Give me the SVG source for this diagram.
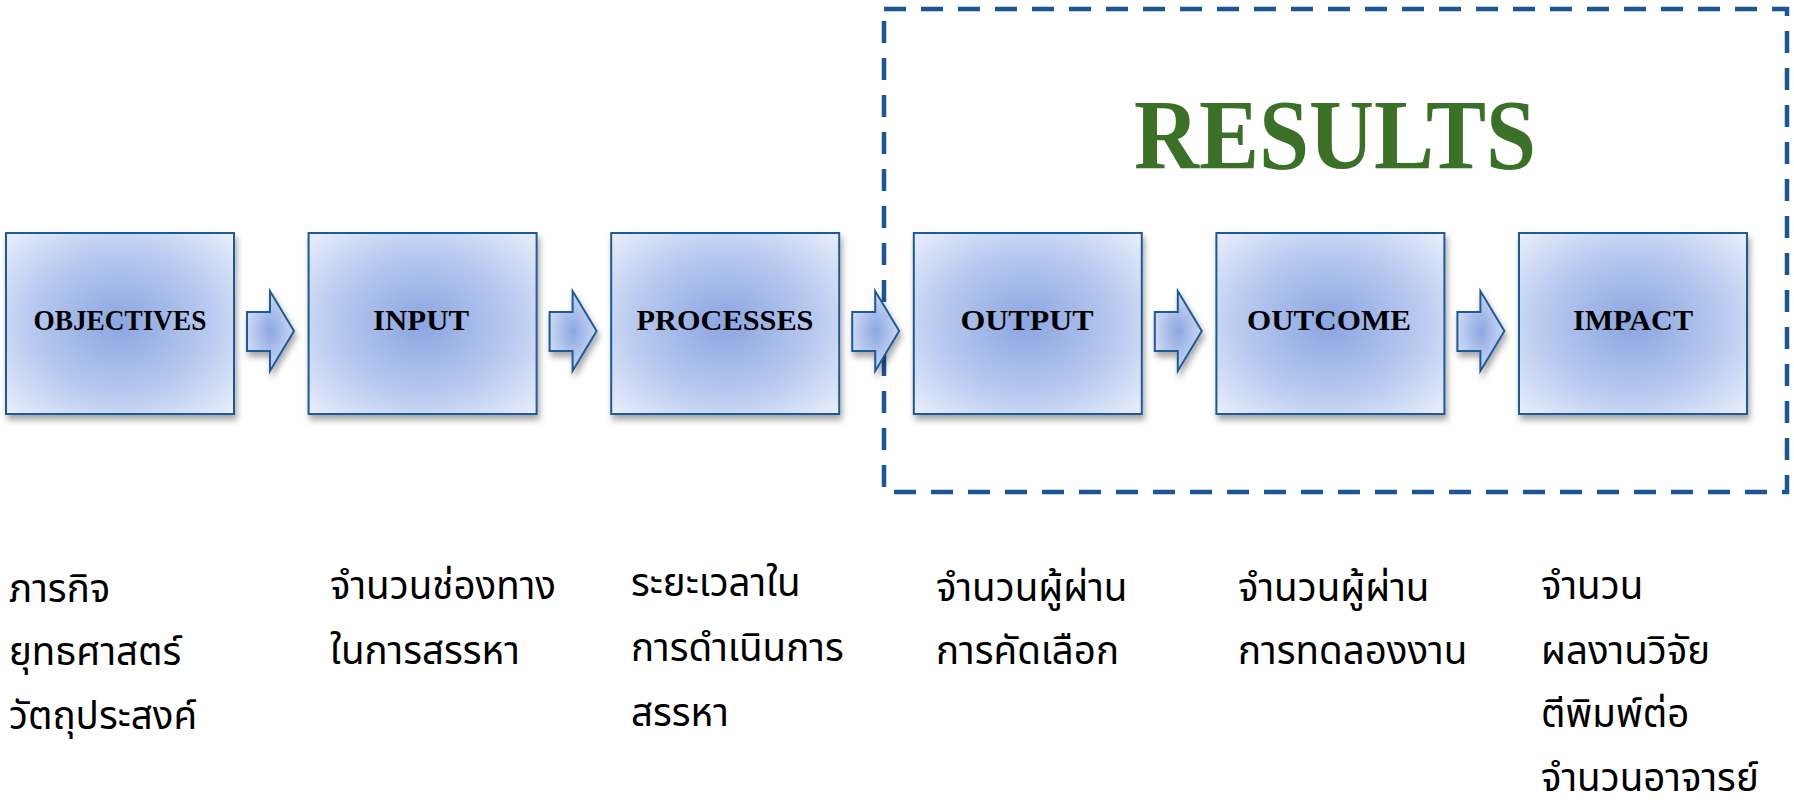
<svg xmlns="http://www.w3.org/2000/svg" width="1794" height="807" viewBox="0 0 1794 807">
  <defs>
    <radialGradient id="boxGrad" cx="0.5" cy="0.5" r="0.72">
      <stop offset="0" stop-color="#8AA5E0"/>
      <stop offset="0.55" stop-color="#B9CAF0"/>
      <stop offset="1" stop-color="#ECF0FB"/>
    </radialGradient>
    <radialGradient id="arrGrad" cx="0.5" cy="0.5" r="0.6">
      <stop offset="0" stop-color="#8CA7E2"/>
      <stop offset="1" stop-color="#D8E2F7"/>
    </radialGradient>
    <filter id="shadow" x="-10%" y="-10%" width="125%" height="130%">
      <feDropShadow dx="2" dy="5" stdDeviation="3" flood-color="#000" flood-opacity="0.35"/>
    </filter>
    <path id="arrow" d="M247,312 H270 V291 L294,331 L270,371 V351 H247 Z"/>
  </defs>
  <style>
    .box { fill: url(#boxGrad); stroke: #1F5A98; stroke-width: 2; filter: url(#shadow); }
    .arr { fill: url(#arrGrad); stroke: #1F5A98; stroke-width: 2; filter: url(#shadow); }
    .lbl { font-family: "Liberation Serif", "Times New Roman", serif; font-weight: bold; font-size: 30px; fill: #000; text-anchor: middle; }
    .th { font-family: "Noto Sans Thai", "Noto Sans", "DejaVu Sans", sans-serif; font-size: 38.5px; fill: #000; }
    .res { font-family: "Liberation Serif", "Times New Roman", serif; font-weight: bold; font-size: 100px; fill: #3B7027; }
  </style>
  <rect width="1794" height="807" fill="#fff"/>

  <g id="results-frame">
    <rect x="884" y="9" width="903" height="483" fill="none" stroke="#1B5696" stroke-width="4.5" stroke-dasharray="22 15"/>
    <text class="res" x="1134" y="168" textLength="402" lengthAdjust="spacingAndGlyphs">RESULTS</text>
  </g>

  <g id="node-objectives">
    <rect class="box" x="6" y="233" width="228" height="181"/>
    <text class="lbl" x="120" y="330" textLength="173" lengthAdjust="spacingAndGlyphs">OBJECTIVES</text>
  </g>
  <g id="node-input">
    <rect class="box" x="308.6" y="233" width="228" height="181"/>
    <text class="lbl" x="421" y="330" textLength="96" lengthAdjust="spacingAndGlyphs">INPUT</text>
  </g>
  <g id="node-processes">
    <rect class="box" x="611.2" y="233" width="228" height="181"/>
    <text class="lbl" x="725" y="330" textLength="177" lengthAdjust="spacingAndGlyphs">PROCESSES</text>
  </g>
  <g id="node-output">
    <rect class="box" x="913.8" y="233" width="228" height="181"/>
    <text class="lbl" x="1027" y="330" textLength="133" lengthAdjust="spacingAndGlyphs">OUTPUT</text>
  </g>
  <g id="node-outcome">
    <rect class="box" x="1216.4" y="233" width="228" height="181"/>
    <text class="lbl" x="1329" y="330" textLength="164" lengthAdjust="spacingAndGlyphs">OUTCOME</text>
  </g>
  <g id="node-impact">
    <rect class="box" x="1519" y="233" width="228" height="181"/>
    <text class="lbl" x="1633" y="330" textLength="120" lengthAdjust="spacingAndGlyphs">IMPACT</text>
  </g>

  <g id="connectors">
    <use href="#arrow" class="arr"/>
    <use href="#arrow" class="arr" transform="translate(302.6,0)"/>
    <use href="#arrow" class="arr" transform="translate(605.2,0)"/>
    <use href="#arrow" class="arr" transform="translate(907.8,0)"/>
    <use href="#arrow" class="arr" transform="translate(1210.4,0)"/>
  </g>

  <g id="desc-objectives" class="th">
    <text x="9" y="602">ภารกิจ</text>
    <text x="9" y="665">ยุทธศาสตร์</text>
    <text x="9" y="729">วัตถุประสงค์</text>
  </g>
  <g id="desc-input" class="th">
    <text x="330" y="599">จำนวนช่องทาง</text>
    <text x="330" y="664">ในการสรรหา</text>
  </g>
  <g id="desc-processes" class="th">
    <text x="631" y="596">ระยะเวลาใน</text>
    <text x="631" y="661">การดำเนินการ</text>
    <text x="631" y="726">สรรหา</text>
  </g>
  <g id="desc-output" class="th">
    <text x="936" y="601">จำนวนผู้ผ่าน</text>
    <text x="936" y="664">การคัดเลือก</text>
  </g>
  <g id="desc-outcome" class="th">
    <text x="1238" y="601">จำนวนผู้ผ่าน</text>
    <text x="1238" y="664">การทดลองงาน</text>
  </g>
  <g id="desc-impact" class="th">
    <text x="1541" y="599">จำนวน</text>
    <text x="1541" y="664">ผลงานวิจัย</text>
    <text x="1541" y="727">ตีพิมพ์ต่อ</text>
    <text x="1541" y="791">จำนวนอาจารย์</text>
  </g>
</svg>
